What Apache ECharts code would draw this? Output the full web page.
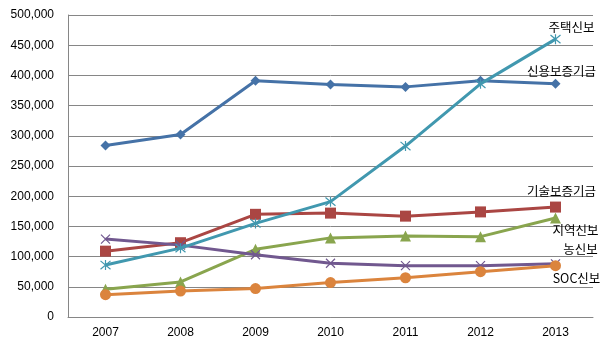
<!DOCTYPE html>
<html><head><meta charset="utf-8">
<script src="https://cdn.jsdelivr.net/npm/echarts@6/dist/echarts.min.js"></script>
<style>html,body{margin:0;padding:0;background:#fff}#c{width:609px;height:352px}</style>
</head><body><div id="c"></div>
<script>
const categories = ['2007','2008','2009','2010','2011','2012','2013'];
const seriesNames = ['신용보증기금','기술보증기금','지역신보','농신보','주택신보','SOC신보'];
const sinyong = [284000, 302000, 391000, 385000, 381000, 391000, 386000];
const gisul   = [109000, 123000, 170000, 172000, 167000, 174000, 182000];
const jiyeok  = [46000, 58000, 112000, 131000, 134000, 133000, 164000];
const nongsin = [129000, 119000, 103000, 89000, 85000, 85000, 88000];
const jutaek  = [86000, 114000, 155000, 191000, 283000, 386000, 460000];
const soc     = [37000, 43000, 47000, 57000, 65000, 75000, 85000];
const yTicks = [0, 50000, 100000, 150000, 200000, 250000, 300000, 350000, 400000, 450000, 500000];

const colors = ['#4572A7','#AA4643','#89A54E','#71588F','#4198AF','#DB843D'];
const symbols = ['diamond','rect','triangle','path://M0,0L10,10M10,0L0,10','path://M0,0L10,10M10,0L0,10M5,-1L5,11','circle'];
const symSizes = [10,11,11,9,10,11];
const labelOffsets = [[6,-13],[6,-16],[20,12],[25,-15],[16,-12],[21,13]];
const values = [sinyong, gisul, jiyeok, nongsin, jutaek, soc];

const series = seriesNames.map((name, i) => {
  const data = values[i].map((v, j) => {
    if (j === values[i].length - 1) {
      return { value: v, label: { show: true, formatter: name, position: 'inside', offset: labelOffsets[i],
        color: '#000', fontSize: 12.5, fontFamily: '"Noto Sans CJK KR", sans-serif' } };
    }
    return v;
  });
  const isPath = symbols[i].startsWith('path');
  return {
    name, type: 'line', data,
    symbol: symbols[i], symbolSize: symSizes[i],
    lineStyle: { color: colors[i], width: 3 },
    itemStyle: { color: isPath ? 'rgba(0,0,0,0)' : colors[i], borderColor: colors[i], borderWidth: isPath ? 1.2 : 0 },
    emphasis: { disabled: true },
    animation: false,
    z: 2 + i
  };
});

const chart = echarts.init(document.getElementById('c'), null, { renderer: 'canvas' });
chart.setOption({
  animation: false,
  grid: { left: 68, right: 16, top: 15, bottom: 35 },
  xAxis: {
    type: 'category', data: categories, boundaryGap: true,
    axisLine: { lineStyle: { color: '#868686', width: 1 } },
    axisTick: { show: false },
    axisLabel: { color: '#000', fontSize: 12, fontFamily: '"Liberation Sans", Arial, sans-serif', margin: 10 }
  },
  yAxis: {
    type: 'value', min: 0, max: 500000, interval: 50000,
    axisLine: { show: true, lineStyle: { color: '#868686', width: 1 } },
    axisTick: { show: false },
    splitLine: { lineStyle: { color: '#868686', width: 1 } },
    axisLabel: { color: '#000', fontSize: 12, fontFamily: '"Liberation Sans", Arial, sans-serif', margin: 14,
      formatter: v => yTicks.includes(v) ? v.toLocaleString('en-US') : '' }
  },
  series
});
</script></body></html>
